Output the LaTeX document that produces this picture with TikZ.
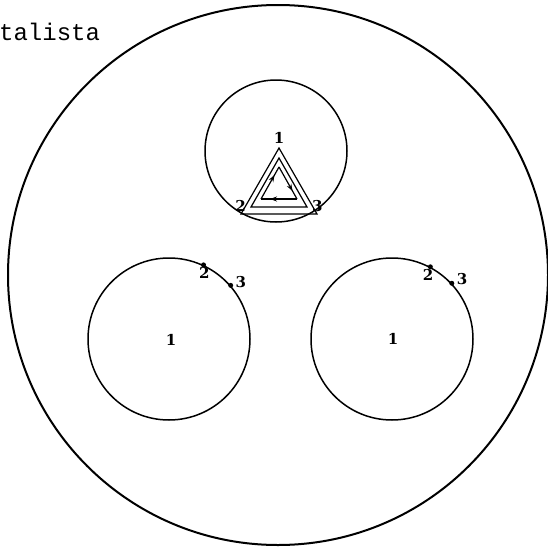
\documentclass[tikz,border=0pt]{standalone}
\usepackage{fontspec}
\newfontfamily\typewriter{Liberation Mono}
\newfontfamily\digitfont{DejaVu Serif}
\usetikzlibrary{positioning,arrows.meta,decorations.markings}

\begin{document}
\begin{tikzpicture}[
    x=1pt, y=-1pt,
    vessel/.style={draw, circle, line width=2pt, inner sep=0pt, minimum size=540pt},
    cell/.style={draw, circle, line width=1.5pt, inner sep=0pt, minimum size=162pt},
    num/.style={font=\digitfont\bfseries\fontsize{15}{15}\selectfont, inner sep=0pt},
    spot/.style={circle, fill, inner sep=0pt, minimum size=5pt},
    tri/.style={line width=1.2pt, line join=miter},
    midarrow/.style={postaction={decorate}, decoration={markings,
        mark=at position 0.75 with {\arrow{Stealth[length=7pt,width=5pt]}}}}
]
    \useasboundingbox (0,0) rectangle (548,549);

    % Titel oben links
    \node[font=\typewriter\fontsize{24}{24}\selectfont, anchor=base west, inner sep=0pt] (title) at (-1,40) {talista};

    % Gefaess und Zellen
    \node[vessel] (vessel) at (278,275) {};
    \node[cell, minimum size=142pt] (top) at (276,151) {};
    \node[cell] (left) at (169,339) {};
    \node[cell] (right) at (392,339) {};

    % Dreieck in der oberen Zelle
    \coordinate (o1) at (279,148);
    \coordinate (o2) at (241,214);
    \coordinate (o3) at (317,214);
    \coordinate (m1) at (279,158);
    \coordinate (m2) at (251,207);
    \coordinate (m3) at (307,207);
    \coordinate (i1) at (279,167);
    \coordinate (i2) at (261,199);
    \coordinate (i3) at (297,199);
    \draw[tri] (o1) -- (o2) -- (o3) -- cycle;
    \draw[tri] (m1) -- (m2) -- (m3) -- cycle;
    \draw[tri, midarrow] (i2) -- (i1);
    \draw[tri, midarrow] (i1) -- (i3);
    \draw[tri, midarrow] (i3) -- (i2);
    \node[num, above=4pt of o1] (t1) {1};
    \node[num, above left=2pt and -5pt of o2] (t2) {2};
    \node[num, above right=2pt and -5pt of o3] (t3) {3};

    % Punkte auf den unteren Zellen
    \node[spot] (l2) at (left.65) {};
    \node[spot] (l3) at (left.41) {};
    \node[spot] (r2) at (right.62) {};
    \node[spot] (r3) at (right.43) {};
    \node[num, below left=0pt and -8pt of l2] (l2lab) {2};
    \node[num, right=2pt of l3, yshift=3pt] (l3lab) {3};
    \node[num, below left=0pt and -5pt of r2] (r2lab) {2};
    \node[num, above right=-4pt and 3pt of r3] (r3lab) {3};
    \node[num] (l1) at (171,340) {1};
    \node[num] (r1) at (393,339) {1};

\end{tikzpicture}
\end{document}
